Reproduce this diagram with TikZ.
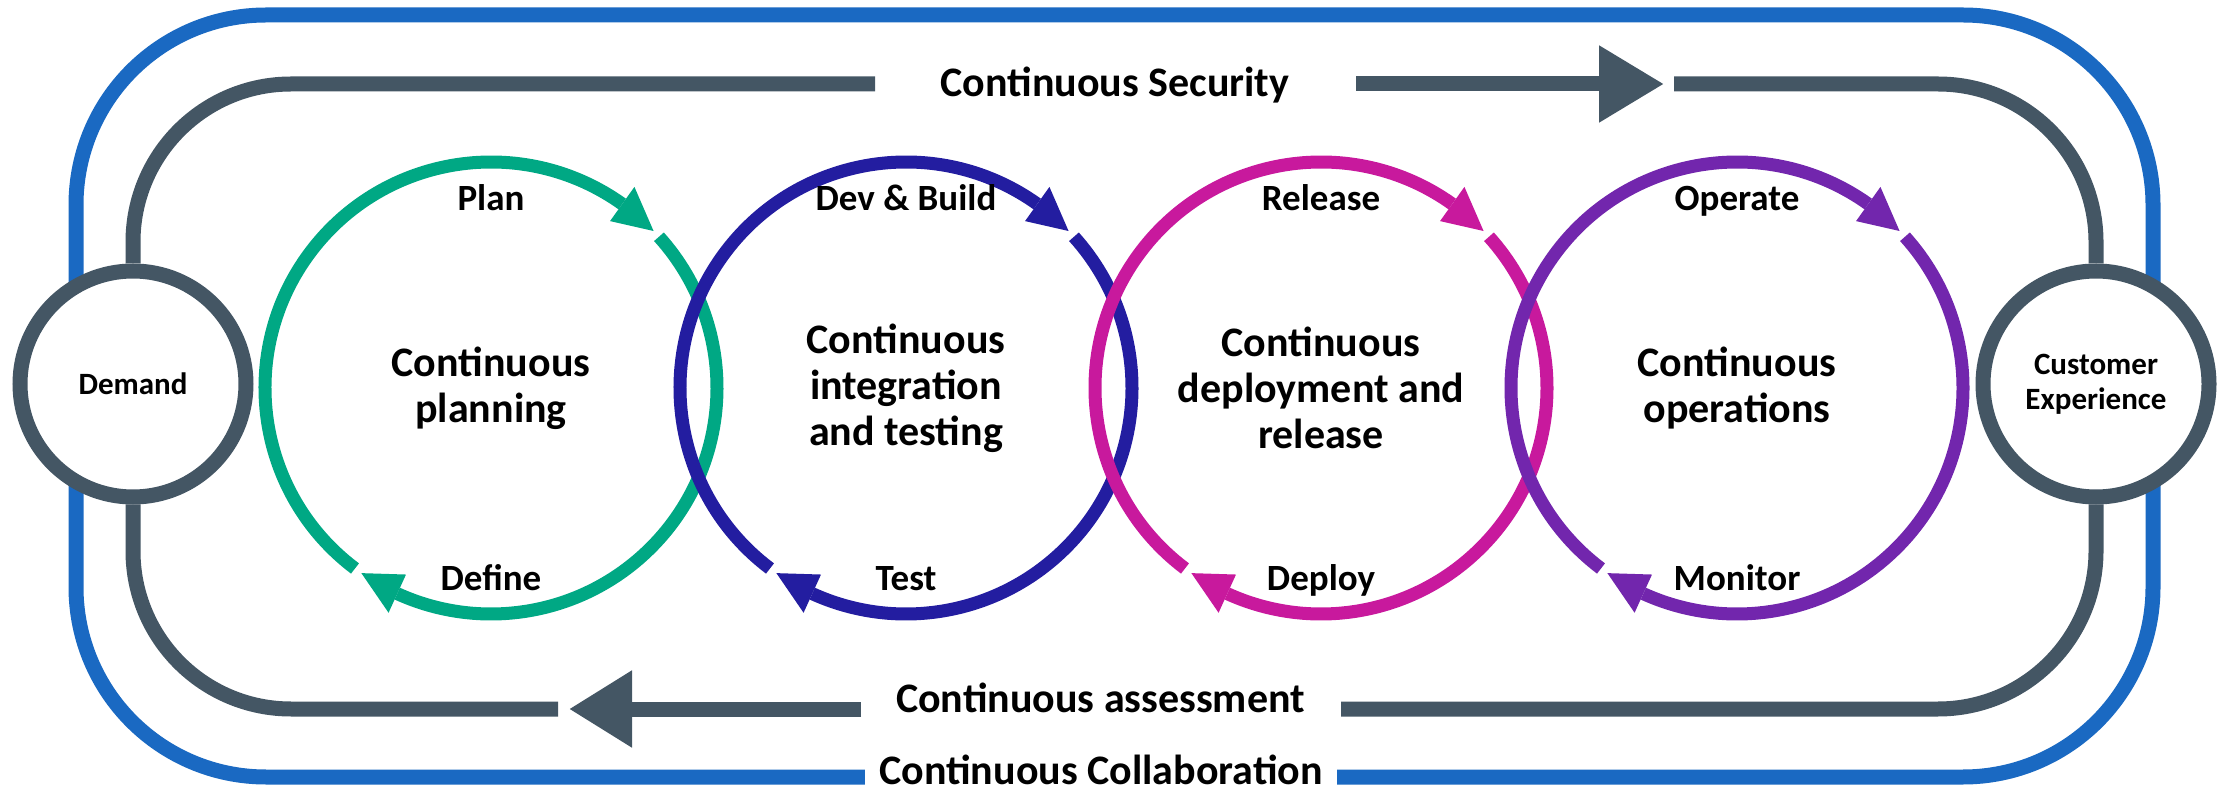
\documentclass[tikz,border=0pt]{standalone}
\usepackage{fontspec}
\setmainfont{Carlito}
\usetikzlibrary{arrows.meta,calc}
\definecolor{cgreen}{RGB}{0,168,132}
\definecolor{cindigo}{RGB}{35,29,160}
\definecolor{cmagenta}{RGB}{200,25,157}
\definecolor{cpurple}{RGB}{114,38,173}
\definecolor{cgray}{RGB}{68,86,100}
\definecolor{cblue}{RGB}{26,105,194}
\pgfdeclarelayer{bg}
\pgfsetlayers{bg,main}
\begin{document}
\begin{tikzpicture}[x=1pt,y=1pt,
  grayline/.style={line width=15pt, draw=cgray},
  ring/.style={line width=13pt},
  title/.style={font=\fontsize{42}{46}\selectfont\bfseries, align=center, inner sep=0pt},
  lbl/.style={font=\fontsize{37}{40}\selectfont\bfseries, anchor=base, inner sep=0pt},
  band/.style={font=\fontsize{42}{46}\selectfont\bfseries, anchor=base, inner sep=0pt},
  endcircle/.style={circle, draw=cgray, line width=15pt, fill=white, minimum size=226pt, inner sep=0pt, font=\fontsize{31}{35}\selectfont\bfseries, align=center}]
\useasboundingbox (0,0) rectangle (2224,793);

% outer blue frame (behind)
\begin{pgfonlayer}{bg}
\draw[line width=15pt, draw=cblue, rounded corners=190pt] (76,16) rectangle (2153,778);
\end{pgfonlayer}

% end circles
\node[endcircle] (dem) at (133,409) {Demand};
\node[endcircle] (cx) at (2096,409) {Customer\\Experience};

% band labels
\node[band] (sec) at (1115,696) {Continuous Security};
\node[band] (asm) at (1100.5,81) {Continuous assessment};
\node[band, fill=white, inner xsep=14pt, inner ysep=1pt] (col) at (1101,9) {Continuous Collaboration};

% gray loop coordinates
\coordinate (secL) at (875,709);
\coordinate (secR) at (1356,709);
\coordinate (arrT) at (1664,709);
\coordinate (secR2) at (1674,709);
\coordinate (asmR) at (1341,84);
\coordinate (asmL) at (861,84);
\coordinate (arrB) at (569,84);
\coordinate (asmL2) at (558,84);

\draw[grayline, rounded corners=158pt] (dem.north) |- (secL);
\draw[grayline, -{Triangle[length=65pt,width=73pt]}] (secR) -- (arrT);
\draw[grayline, rounded corners=158pt] (secR2) -| (cx.north);
\draw[grayline, rounded corners=158pt] (cx.south) |- (asmR);
\draw[grayline, -{Triangle[length=63pt,width=73pt]}] (asmL) -- (arrB);
\draw[grayline, rounded corners=158pt] (asmL2) -| (dem.south);

% cycle circles
\foreach \cxx/\col/\nm in {491/cgreen/c1, 906/cindigo/c2, 1321/cmagenta/c3, 1737/cpurple/c4} {
  \coordinate (\nm) at (\cxx,405);
  \draw[ring, draw=\col] ($(\nm)+(233:226)$) arc[start angle=233, end angle=54.5, radius=226];
  \fill[\col] ($(\nm)+(44:226)$) -- ($(\nm)+(54.5:205)$) -- ($(\nm)+(54.5:247)$) -- cycle;
  \draw[ring, draw=\col] ($(\nm)+(42:226)$) arc[start angle=42, end angle=-114.5, radius=226];
  \fill[\col] ($(\nm)+(-125:226)$) -- ($(\nm)+(-114.5:205)$) -- ($(\nm)+(-114.5:247)$) -- cycle;
}

% titles
\node[title] (t1) at (c1) {Continuous\\planning};
\node[title] (t2) at (c2) {Continuous\\integration\\and testing};
\node[title] (t3) at (c3) {Continuous\\deployment and\\release};
\node[title] (t4) at (c4) {Continuous\\operations};

% stage labels
\node[lbl] (plan) at (491,582) {Plan};
\node[lbl] (dev) at (906,582) {Dev \& Build};
\node[lbl] (rel) at (1321,582) {Release};
\node[lbl] (ope) at (1737,582) {Operate};
\node[lbl] (def) at (491,203) {Define};
\node[lbl] (tst) at (906,203) {Test};
\node[lbl] (dep) at (1321,203) {Deploy};
\node[lbl] (mon) at (1737,203) {Monitor};
\end{tikzpicture}
\end{document}
